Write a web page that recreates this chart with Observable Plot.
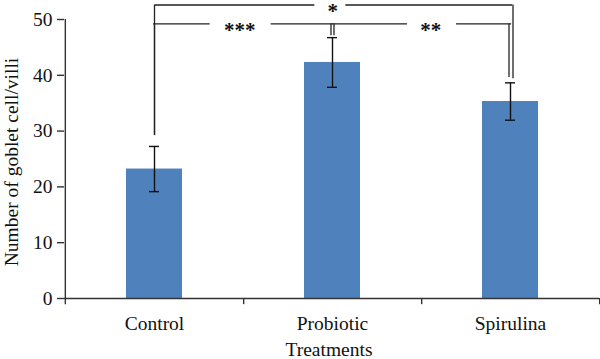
<!DOCTYPE html>
<html><head><meta charset="utf-8">
<script src="https://cdn.jsdelivr.net/npm/d3@7"></script>
<script src="https://cdn.jsdelivr.net/npm/@observablehq/plot@0.6"></script>
<style>body{margin:0;background:#fff}</style>
</head><body><div id="chart"></div>
<script>
// ---- data ----
const categories = ["Control", "Probiotic", "Spirulina"];
const means = [23.2, 42.3, 35.3];
const errors = [4.05, 4.45, 3.35];
const yTicks = [0, 10, 20, 30, 40, 50];
const yTitle = "Number of goblet cell/villi";
const xTitle = "Treatments";
// significance brackets
const bracketFrom = ["Control", "Control", "Probiotic"];
const bracketTo = ["Spirulina", "Probiotic", "Spirulina"];
const bracketLevel = [52.6, 49.2, 49.2];
const bracketFromEnd = [29.2, 29.2, 47.1];
const bracketToEnd = [39.4, 47.1, 39.6];
const bracketLabel = ["*", "***", "**"];

// ---- layout / style ----
const W = 600, H = 359, ML = 64, MR = 1, MT = 19, MB = 61;
const step = (W - ML - MR) / categories.length;
const axisColor = "#333";
const lineColor = "#222";
const font = 19.5;
// per-bracket styling offsets (pixels)
const legFromDx = [0, 0, 1.5];
const legToDx = [2.5, -1.5, -1.5];
const spanDx = [1, -0.7, 0];
const labelDx = [step, step / 2 - 4, step / 2 + 9];
// dash pattern that leaves room for the label on each bracket's span
const spanDash = ["158.2 32.3 2000", "55.2 62.3 2000", "73.9 50.3 2000"];

const data = categories.map((c, i) => ({cat: c, mean: means[i], err: errors[i]}));
const brackets = bracketFrom.map((f, i) => ({
  from: f, to: bracketTo[i], level: bracketLevel[i],
  fromEnd: bracketFromEnd[i], toEnd: bracketToEnd[i], label: bracketLabel[i]
}));

const bracketMarks = brackets.flatMap((b, i) => [
  Plot.ruleX([b], {x: "from", y1: "fromEnd", y2: "level", dx: legFromDx[i], stroke: lineColor, strokeWidth: 1.3}),
  Plot.ruleX([b], {x: "to", y1: "toEnd", y2: "level", dx: legToDx[i], stroke: lineColor, strokeWidth: 1.3}),
  Plot.line([[b.from, b.level], [b.to, b.level]], {x: d => d[0], y: d => d[1], dx: spanDx[i],
    stroke: lineColor, strokeWidth: 1.3, strokeLinecap: "square", strokeDasharray: spanDash[i]}),
  Plot.text([b], {x: "from", y: "level", text: "label", dx: labelDx[i], dy: 6, fontSize: 21, fontWeight: "bold",
    fontFamily: "Liberation Serif", fill: "#111", lineAnchor: "middle"})
]);

const plot = Plot.plot({
  width: W, height: H,
  marginLeft: ML, marginRight: MR, marginTop: MT, marginBottom: MB,
  style: {fontFamily: "Liberation Serif", background: "white", color: "#111"},
  x: {domain: categories, paddingInner: 0.686, paddingOuter: 0.343},
  y: {domain: [0, 50]},
  marks: [
    Plot.barY(data, {x: "cat", y: "mean", fill: "#4f81bd"}),
    Plot.ruleX(data, {x: "cat", y1: d => d.mean - d.err, y2: d => d.mean + d.err, stroke: "#111", strokeWidth: 1.4}),
    Plot.tickY(data, {x: "cat", y: d => d.mean - d.err, insetLeft: 23, insetRight: 23, stroke: "#111", strokeWidth: 1.4}),
    Plot.tickY(data, {x: "cat", y: d => d.mean + d.err, insetLeft: 23, insetRight: 23, stroke: "#111", strokeWidth: 1.4}),
    // axes
    Plot.ruleY([0], {stroke: axisColor, strokeWidth: 1.4}),
    Plot.ruleX([categories[0]], {dx: -step / 2, y1: -1.1, y2: 50, stroke: axisColor, strokeWidth: 1.4}),
    Plot.ruleX(categories, {x: d => d, dx: step / 2, y1: -1.1, y2: 0, stroke: axisColor, strokeWidth: 1.4}),
    Plot.axisY({ticks: yTicks, tickSize: 7, tickPadding: 5, fontSize: font, label: null, stroke: axisColor, strokeWidth: 1.4}),
    Plot.axisX({tickSize: 0, tickPadding: 18, fontSize: font, label: null}),
    Plot.text([yTitle], {text: d => d, frameAnchor: "left", textAnchor: "middle", rotate: -90, dx: -53, dy: 3, fontSize: font, lineAnchor: "middle"}),
    Plot.text([xTitle], {text: d => d, frameAnchor: "bottom", textAnchor: "middle", lineAnchor: "top", dy: 44, dx: -3, fontSize: font}),
    ...bracketMarks
  ]
});
document.getElementById("chart").append(plot);
</script>
</body></html>
